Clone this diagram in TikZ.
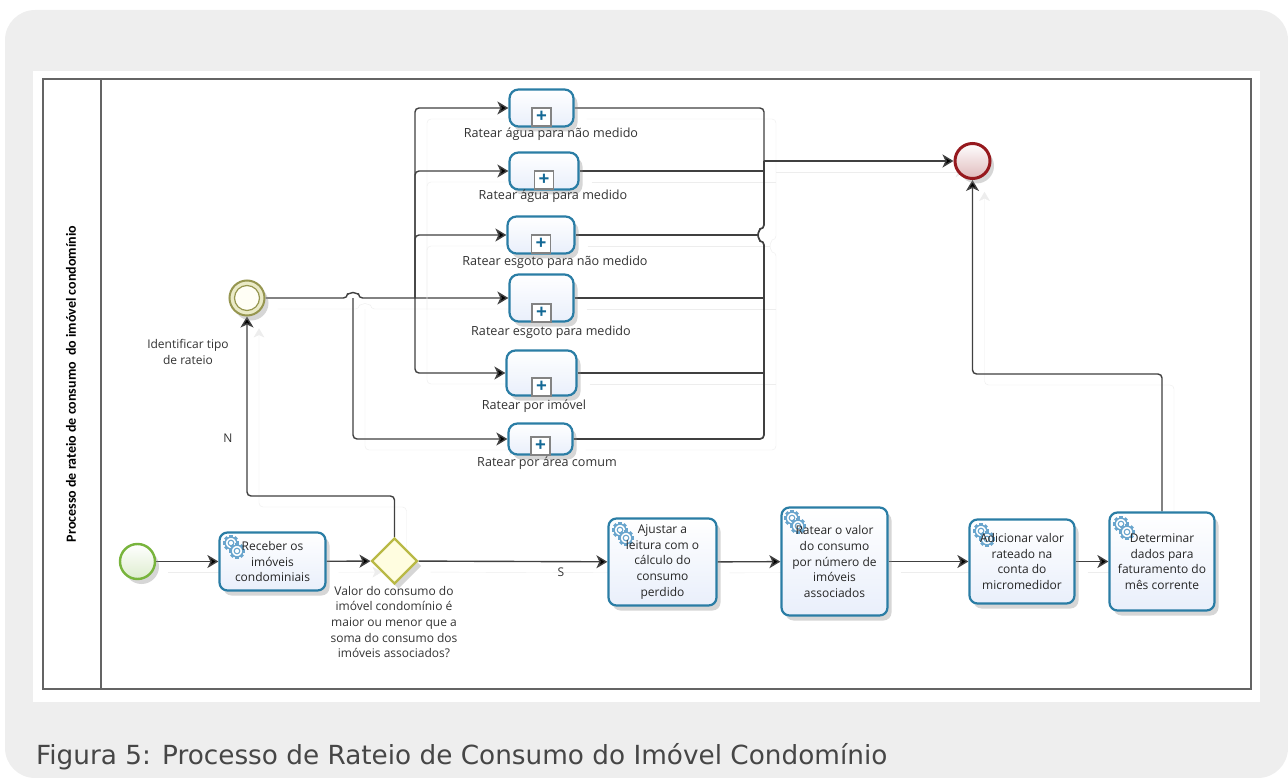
\documentclass[tikz,border=0pt]{standalone}
\usepackage{fontspec}
\setmainfont{Open Sans}
\newfontfamily\capfont{DejaVu Sans}
\newfontfamily\lanefont{Carlito}
\usetikzlibrary{arrows.meta,shadows,shapes.geometric}
\definecolor{panelgray}{RGB}{238,238,238}
\definecolor{framegray}{RGB}{100,100,100}
\definecolor{taskblue}{RGB}{42,125,165}
\definecolor{taskfill}{RGB}{233,239,251}
\definecolor{gearblue}{RGB}{105,165,205}
\definecolor{plusblue}{RGB}{20,105,150}
\definecolor{startgreen}{RGB}{120,180,60}
\definecolor{gateolive}{RGB}{185,185,70}
\definecolor{interolive}{RGB}{150,150,80}
\definecolor{endred}{RGB}{150,25,30}
\definecolor{captiongray}{RGB}{70,70,70}
\pgfdeclarelayer{front}
\pgfdeclarelayer{texts}
\pgfsetlayers{main,front,texts}
\tikzset{
  softshadow/.style={drop shadow={shadow xshift=4pt,shadow yshift=-5pt,fill=black!45,opacity=.35}},
  gear/.pic={
    \foreach \a in {0,45,...,315}{\fill[gearblue,rotate=\a] (-1.6,5.2) rectangle (1.6,8);}
    \draw[gearblue,fill=white,line width=1.3pt] (0,0) circle (5.8);
    \draw[gearblue,line width=1.1pt] (0,0) circle (2.8);
  },
  taskbox/.style={draw=taskblue,line width=2.2pt,rounded corners=8pt,top color=white,bottom color=taskfill,softshadow,inner sep=0pt},
  tasktext/.style={inner sep=0pt,align=center,text=black!85,font=\fontsize{12}{15.6}\selectfont},
  subbox/.style={draw=taskblue,line width=2.2pt,rounded corners=9pt,top color=white,bottom color=taskfill,softshadow,inner sep=0pt},
  plusmark/.style={draw=framegray!80,line width=1.4pt,fill=white,minimum width=19pt,minimum height=18pt,inner sep=0pt,
    label={[plusblue,font=\bfseries\fontsize{19}{19}\selectfont,inner sep=0pt]center:+}},
  caplabel/.style={align=center,inner sep=0pt,text=black!80,font=\fontsize{12}{15.6}\selectfont},
  sublabel/.style={caplabel,font=\fontsize{12.6}{15.6}\selectfont},
  flowbase/.style={draw=black!75,line width=1.4pt,rounded corners=4pt},
  ghost/.style={draw=black!7,transform canvas={shift={(12pt,-11pt)}}},
  flow/.style={flowbase,preaction={ghost,-}},
  arrowflow/.style={flowbase,preaction={ghost,-{Stealth[length=11pt,width=13pt,inset=3pt,fill=black!7]}},
    -{Stealth[length=11pt,width=13pt,inset=3pt,fill=black]}}
}
\newcommand{\gearicon}[2]{
  \pic at (#1,#2) {gear};
  \pic at (#1+6,#2+8) {gear};
}
\begin{document}
\begin{tikzpicture}[x=1pt,y=-1pt]
\useasboundingbox (0,0) rectangle (1288,778);
% Page panel and white image area
\fill[panelgray,rounded corners=30pt] (5,10) rectangle (1288,778);
\fill[white] (33,71) rectangle (1260,702);
\draw[framegray,line width=1.6pt] (43,79) rectangle (1251,689);
\draw[framegray,line width=1.6pt] (101,79) -- (101,689);

\begin{pgfonlayer}{front}
% Lane title
\node[rotate=90,font=\lanefont\bfseries\fontsize{14}{14}\selectfont,inner sep=0pt] (lane) at (71,384) {Processo de rateio de consumo\ \ do imóvel condomínio};

% Events and gateway
\node[circle,draw=startgreen,line width=2.4pt,top color=white,bottom color=startgreen!25,softshadow,minimum size=35pt,inner sep=0pt] (start) at (137.5,561.5) {};
\node[circle,draw=interolive,line width=2pt,fill=gateolive!30,softshadow,minimum size=35pt,inner sep=0pt] (identificar) at (247,298) {};
\node[circle,draw=interolive,line width=1.2pt,fill=yellow!4,minimum size=25pt,inner sep=0pt] (identificarin) at (247,298) {};
\node[circle,draw=endred,line width=3pt,top color=white,bottom color=endred!30,softshadow,minimum size=35pt,inner sep=0pt] (fim) at (972.5,161) {};
\node[diamond,draw=gateolive,line width=2.2pt,fill=yellow!12,softshadow,minimum width=46pt,minimum height=46pt,inner sep=0pt] (decisao) at (394.5,561) {};

% Main tasks
\node[taskbox,minimum width=106pt,minimum height=58pt] (receber) at (272.5,561.5) {};
\node[taskbox,minimum width=108pt,minimum height=87pt] (ajustar) at (662.5,562) {};
\node[taskbox,minimum width=106pt,minimum height=108pt] (valor) at (834.5,561.5) {};
\node[taskbox,minimum width=105pt,minimum height=84pt] (adicionar) at (1022,561.5) {};
\node[taskbox,minimum width=105pt,minimum height=98pt] (determinar) at (1162,561.5) {};

% Gears
\gearicon{231}{543}
\gearicon{620}{530}
\gearicon{792}{518}
\gearicon{981}{531}
\gearicon{1121}{524}

% Sub processes
\node[subbox,minimum width=64pt,minimum height=37pt] (sub1) at (541.5,108) {};
\node[subbox,minimum width=69pt,minimum height=37pt] (sub2) at (544,171) {};
\node[subbox,minimum width=67pt,minimum height=37pt] (sub3) at (541,235) {};
\node[subbox,minimum width=64pt,minimum height=47pt] (sub4) at (541.5,298) {};
\node[subbox,minimum width=70pt,minimum height=45pt] (sub5) at (541.5,373) {};
\node[subbox,minimum width=64pt,minimum height=31pt] (sub6) at (540.5,439) {};
\foreach \i/\x/\y in {1/541.5/117,2/544/180,3/541/244,4/541.5/313,5/541.5/387,6/540.5/446}
  \node[plusmark] (mark\i) at (\x,\y) {};
\end{pgfonlayer}

\begin{pgfonlayer}{texts}
% Task texts
\node[tasktext] (txtreceber) at (receber) {Receber os\\imóveis\\condominiais};
\node[tasktext] (txtajustar) at (ajustar) {Ajustar a\\leitura com o\\cálculo do\\consumo\\perdido};
\node[tasktext] (txtvalor) at (valor) {Ratear o valor\\do consumo\\por número de\\imóveis\\associados};
\node[tasktext] (txtadicionar) at (adicionar) {Adicionar valor\\rateado na\\conta do\\micromedidor};
\node[tasktext] (txtdeterminar) at (determinar) {Determinar\\dados para\\faturamento do\\mês corrente};

% Labels
\node[sublabel] (lblsub1) at (551,134) {Ratear água para não medido};
\node[sublabel] (lblsub2) at (553,196) {Ratear água para medido};
\node[sublabel] (lblsub3) at (555,262) {Ratear esgoto para não medido};
\node[sublabel] (lblsub4) at (551,332) {Ratear esgoto para medido};
\node[sublabel] (lblsub5) at (534,406) {Ratear por imóvel};
\node[sublabel] (lblsub6) at (547,463) {Ratear por área comum};
\node[caplabel] (lblidentificar) at (188,352) {Identificar tipo\\de rateio};
\node[caplabel] (lbln) at (228,438) {N};
\node[caplabel] (lbls) at (561,572) {S};
\node[caplabel] (lbldecisao) at (394,622) {Valor do consumo do\\imóvel condomínio é\\maior ou menor que a\\soma do consumo dos\\imóveis associados?};

% Caption
\node[anchor=west,inner sep=0pt,text=captiongray,font=\capfont\fontsize{26.3}{30}\selectfont] (legenda) at (36,757) {Figura 5: Processo de Rateio de Consumo do Imóvel Condomínio};
\end{pgfonlayer}

% Junction points
\coordinate (hopa) at (347.5,298);
\coordinate (hopb) at (353,298);
\coordinate (split) at (415,298);
\coordinate (merge) at (764,161);
\coordinate (hopc) at (764,241);
\coordinate (joinc) at (758,235);
\coordinate (voltafim) at (972.5,374);
\coordinate (voltaident) at (247,496);

% Connection lines
\draw[arrowflow] (start) -- (receber);
\draw[arrowflow] (receber) -- (decisao);
\draw[arrowflow] (decisao) -- (ajustar);
\draw[arrowflow] (ajustar) -- (valor);
\draw[arrowflow] (valor) -- (adicionar);
\draw[arrowflow] (adicionar) -- (determinar);
\draw[arrowflow] (decisao.north) |- (voltaident) -- (identificar.south);
\draw[arrowflow] (determinar.north) |- (voltafim) -- (fim.south);

\draw[arrowflow] (identificar.east) -- (hopa) arc[start angle=180,end angle=0,radius=5.5pt] -- (sub4.west);
\draw[arrowflow] (split) |- (sub1.west);
\draw[arrowflow] (split) |- (sub2.west);
\draw[arrowflow] (split) |- (sub3.west);
\draw[arrowflow] (split) |- (sub5.west);
\draw[arrowflow] (hopb) |- (sub6.west);

\draw[flow] (sub1.east) -| (merge);
\draw[flow] (sub2.east) -- (sub2.east -| merge);
\draw[flow] (sub3.east) -- (joinc);
\draw[flow] (sub4.east) -- (sub4.east -| merge);
\draw[flow] (sub5.east) -- (sub5.east -| merge);
\draw[flow,line width=1.7pt] (sub6.east) -| (hopc) arc[start angle=270,end angle=90,radius=6pt] -- (merge);
\draw[arrowflow] (merge) -- (fim.west);
\end{tikzpicture}
\end{document}
